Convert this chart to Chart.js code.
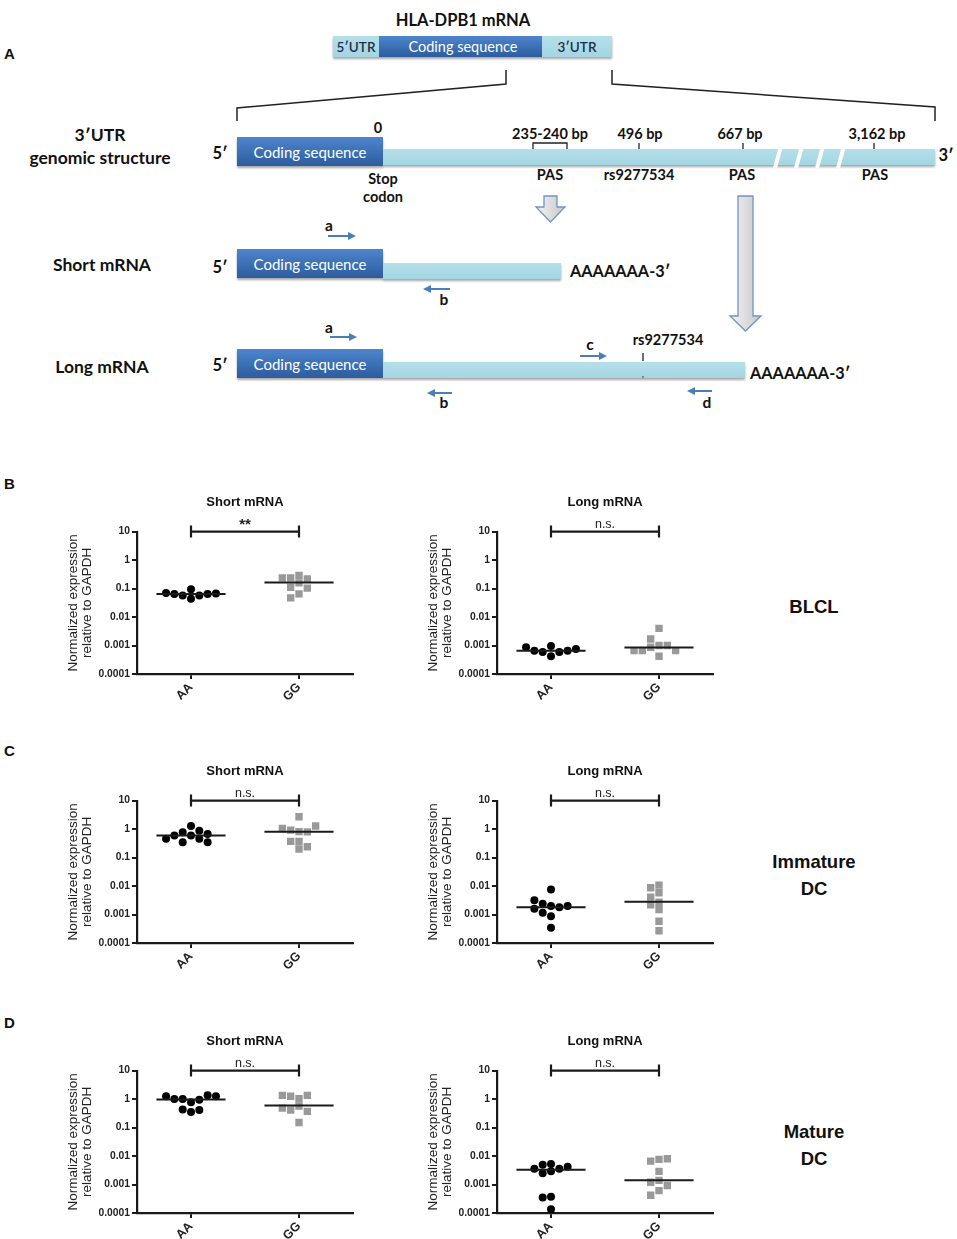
<!DOCTYPE html>
<html><head><meta charset="utf-8">
<script src="https://cdn.jsdelivr.net/npm/chart.js@4.4.0/dist/chart.umd.min.js"></script>
<style>
html,body{margin:0;padding:0;background:#fff;}
#fig{position:relative;width:957px;height:1239px;overflow:hidden;}
canvas{position:absolute;}
.lbl{position:absolute;font-family:"Liberation Sans",Arial,sans-serif;font-weight:bold;color:#111;white-space:nowrap;transform:translate(-50%,-50%);text-align:center;}
.side{font-size:18.5px;line-height:27px;}
.pl{font-size:15px;}
</style></head>
<body><div id="fig">
<svg width="957" height="420" style="position:absolute;left:0;top:0" font-family="Lato, 'Open Sans', sans-serif" font-weight="bold">
<defs>
 <linearGradient id="dark" x1="0" y1="0" x2="0" y2="1"><stop offset="0" stop-color="#4d85cd"/><stop offset="1" stop-color="#2c5c9e"/></linearGradient>
 <linearGradient id="light" x1="0" y1="0" x2="0" y2="1"><stop offset="0" stop-color="#b4dfe9"/><stop offset="1" stop-color="#a4d5e2"/></linearGradient>
 <linearGradient id="garrow" x1="0" y1="0" x2="1" y2="0"><stop offset="0" stop-color="#f4f4f4"/><stop offset="1" stop-color="#c6c6c6"/></linearGradient>
 <filter id="sh" x="-5%" y="-30%" width="110%" height="180%"><feDropShadow dx="0" dy="2" stdDeviation="1.2" flood-color="#000" flood-opacity="0.35"/></filter>
</defs>
<text x="9.5" y="53" font-family="'Liberation Sans',Arial" font-size="15" text-anchor="middle" dominant-baseline="central" fill="#111">A</text>
<text x="463" y="20" font-size="16.5" text-anchor="middle" dominant-baseline="central" fill="#111">HLA-DPB1 mRNA</text>
<g filter="url(#sh)">
 <rect x="333" y="36" width="46" height="21" fill="url(#light)"/>
 <rect x="379" y="36" width="163" height="21" fill="url(#dark)"/>
 <rect x="542" y="36" width="70" height="21" fill="url(#light)"/>
</g>
<text x="356" y="46.5" font-size="13.5" font-weight="600" text-anchor="middle" dominant-baseline="central" fill="#1d2f4a">5′UTR</text>
<text x="463" y="46.5" font-size="14.5" font-weight="normal" text-anchor="middle" dominant-baseline="central" fill="#fff">Coding sequence</text>
<text x="577" y="46.5" font-size="13.5" font-weight="600" text-anchor="middle" dominant-baseline="central" fill="#1d2f4a">3′UTR</text>
<polyline points="506,70 506,84 237,108 237,121" fill="none" stroke="#222" stroke-width="1.5"/>
<polyline points="612,70 612,84 935,107 935,121" fill="none" stroke="#222" stroke-width="1.5"/>

<text x="100" y="134" font-size="17.5" text-anchor="middle" dominant-baseline="central" fill="#111">3′UTR</text>
<text x="100" y="157" font-size="17.5" text-anchor="middle" dominant-baseline="central" fill="#111">genomic structure</text>
<text x="220" y="153" font-size="16.5" text-anchor="middle" dominant-baseline="central" fill="#111">5′</text>
<g filter="url(#sh)">
 <rect x="383" y="149" width="552" height="16" fill="url(#light)"/>
 <rect x="237" y="137" width="146" height="29" fill="url(#dark)"/>
</g>
<g stroke="#fff" stroke-width="4">
 <line x1="775" y1="168" x2="781" y2="146"/>
 <line x1="796" y1="168" x2="802" y2="146"/>
 <line x1="817" y1="168" x2="823" y2="146"/>
 <line x1="838" y1="168" x2="844" y2="146"/>
</g>
<text x="310" y="152" font-size="15" font-weight="normal" text-anchor="middle" dominant-baseline="central" fill="#fff">Coding sequence</text>
<text x="946" y="155" font-size="16.5" text-anchor="middle" dominant-baseline="central" fill="#111">3′</text>
<path d="M533,149 V143 H567 V149" fill="none" stroke="#222" stroke-width="1.3"/>
<g stroke="#222" stroke-width="1.3"><line x1="639" y1="143" x2="639" y2="149"/><line x1="743" y1="143" x2="743" y2="149"/><line x1="874" y1="143" x2="874" y2="149"/></g>
<g font-size="14.5" text-anchor="middle" dominant-baseline="central" fill="#111">
 <text x="378" y="127">0</text>
 <text x="550" y="133">235-240 bp</text>
 <text x="640" y="133">496 bp</text>
 <text x="740" y="133">667 bp</text>
 <text x="877" y="133">3,162 bp</text>
 <text x="550" y="174">PAS</text>
 <text x="639" y="174">rs9277534</text>
 <text x="742" y="174">PAS</text>
 <text x="875" y="174">PAS</text>
 <text x="383" y="178">Stop</text>
 <text x="383" y="196">codon</text>
</g>
<path d="M544,196 H557 V207 H565 L550.5,222 L536,207 H544 Z" fill="url(#garrow)" stroke="#6f93c9" stroke-width="1.3"/>
<path d="M738,196 H753 V316 H761 L745.5,331 L730,316 H738 Z" fill="url(#garrow)" stroke="#6f93c9" stroke-width="1.3"/>

<text x="102" y="264" font-size="17.5" text-anchor="middle" dominant-baseline="central" fill="#111">Short mRNA</text>
<text x="220" y="267" font-size="16.5" text-anchor="middle" dominant-baseline="central" fill="#111">5′</text>
<g filter="url(#sh)">
 <rect x="383" y="263" width="178" height="16" fill="url(#light)"/>
 <rect x="237" y="249" width="146" height="29" fill="url(#dark)"/>
</g>
<text x="310" y="264" font-size="15" font-weight="normal" text-anchor="middle" dominant-baseline="central" fill="#fff">Coding sequence</text>
<text x="570" y="270" font-size="16.3" dominant-baseline="central" fill="#111">AAAAAAA-3′</text>

<text x="102" y="366" font-size="17.5" text-anchor="middle" dominant-baseline="central" fill="#111">Long mRNA</text>
<text x="220" y="365" font-size="16.5" text-anchor="middle" dominant-baseline="central" fill="#111">5′</text>
<g filter="url(#sh)">
 <rect x="383" y="362" width="362" height="16" fill="url(#light)"/>
 <rect x="237" y="349" width="146" height="29" fill="url(#dark)"/>
</g>
<text x="310" y="364" font-size="15" font-weight="normal" text-anchor="middle" dominant-baseline="central" fill="#fff">Coding sequence</text>
<text x="750" y="372" font-size="16.3" dominant-baseline="central" fill="#111">AAAAAAA-3′</text>
<text x="668" y="339" font-size="14.5" text-anchor="middle" dominant-baseline="central" fill="#111">rs9277534</text>
<line x1="643" y1="353" x2="643" y2="361" stroke="#222" stroke-width="1.3"/>
<circle cx="643" cy="377" r="0.8" fill="#333"/>

<g stroke="#4a7ebb" stroke-width="2" fill="#4a7ebb">
 <line x1="328" y1="236" x2="350" y2="236"/><polygon points="356,236 348,232 348,240" stroke="none"/>
 <line x1="450" y1="289" x2="429" y2="289"/><polygon points="423,289 431,285 431,293" stroke="none"/>
 <line x1="330" y1="337" x2="351" y2="337"/><polygon points="357,337 349,333 349,341" stroke="none"/>
 <line x1="452" y1="393" x2="433" y2="393"/><polygon points="427,393 435,389 435,397" stroke="none"/>
 <line x1="580" y1="356" x2="601" y2="356"/><polygon points="607,356 599,352 599,360" stroke="none"/>
 <line x1="712" y1="391" x2="693" y2="391"/><polygon points="687,391 695,387 695,395" stroke="none"/>
</g>
<g font-size="15.5" text-anchor="middle" dominant-baseline="central" fill="#111">
 <text x="329" y="225">a</text>
 <text x="444" y="299">b</text>
 <text x="329" y="327">a</text>
 <text x="444" y="402">b</text>
 <text x="590" y="344">c</text>
 <text x="707" y="402">d</text>
</g>
</svg>

<div class="lbl pl" style="left:9.5px;top:483px">B</div>
<div class="lbl pl" style="left:9.5px;top:750px">C</div>
<div class="lbl pl" style="left:9.5px;top:1022px">D</div>
<div class="lbl side" style="left:814px;top:606px">BLCL</div>
<div class="lbl side" style="left:814px;top:875px">Immature<br>DC</div>
<div class="lbl side" style="left:814px;top:1145px">Mature<br>DC</div>

<canvas id="c0" width="300" height="216" style="left:60px;top:490px"></canvas>
<canvas id="c1" width="300" height="216" style="left:420px;top:490px"></canvas>
<canvas id="c2" width="300" height="216" style="left:60px;top:759px"></canvas>
<canvas id="c3" width="300" height="216" style="left:420px;top:759px"></canvas>
<canvas id="c4" width="300" height="216" style="left:60px;top:1029px"></canvas>
<canvas id="c5" width="300" height="216" style="left:420px;top:1029px"></canvas>
</div>
<script>
// ---- data ----
const categories = ['AA', 'GG'];
const panelTitles = ['Short mRNA', 'Long mRNA'];
const yTickValues = [10, 1, 0.1, 0.01, 0.001, 0.0001];
const yTickLabels = ['10', '1', '0.1', '0.01', '0.001', '0.0001'];
const yAxisTitle = ['Normalized expression', 'relative to GAPDH'];

// BLCL
const blclShortAA = [0.095, 0.044, 0.057, 0.057, 0.065, 0.065, 0.070, 0.067];
const blclShortGG = [0.158, 0.238, 0.219, 0.238, 0.288, 0.111, 0.103, 0.065, 0.047];
const blclLongAA  = [0.00097, 0.00042, 0.00059, 0.00059, 0.00066, 0.00066, 0.00087, 0.00076];
const blclLongGG  = [0.0040, 0.0010, 0.0017, 0.0010, 0.00087, 0.00066, 0.00066, 0.00066, 0.00042];
// Immature DC
const imdcShortAA = [1.28, 0.78, 0.87, 0.60, 0.60, 0.67, 0.456, 0.456, 0.348, 0.348];
const imdcShortGG = [2.7, 0.81, 0.92, 0.80, 1.05, 1.28, 0.37, 0.37, 0.20, 0.24];
const imdcLongAA  = [0.0076, 0.0020, 0.0024, 0.0018, 0.0032, 0.0020, 0.0016, 0.00115, 0.00087, 0.00034];
const imdcLongGG  = [0.0108, 0.0087, 0.0058, 0.0041, 0.0027, 0.0022, 0.0015, 0.00058, 0.00027];
// Mature DC
const mdcShortAA  = [0.78, 1.0, 0.95, 1.0, 1.35, 1.26, 1.26, 0.35, 0.43, 0.41];
const mdcShortGG  = [1.03, 1.26, 1.35, 1.35, 0.57, 0.41, 0.37, 0.48, 0.15];
const mdcLongAA   = [0.0029, 0.0053, 0.0025, 0.0036, 0.0036, 0.0042, 0.0049, 0.00037, 0.00035, 0.000135];
const mdcLongGG   = [0.0029, 0.0076, 0.0066, 0.0080, 0.0014, 0.0012, 0.00092, 0.00061, 0.00042];

// medians (horizontal lines): [AA, GG]
const medians = [
  [0.065, 0.163], [0.00066, 0.00085],
  [0.60, 0.80],   [0.0018, 0.0028],
  [0.97, 0.60],   [0.0033, 0.0014]
];
const significance = ['**', 'n.s.', 'n.s.', 'n.s.', 'n.s.', 'n.s.'];

const groups = [
  [blclShortAA, blclShortGG], [blclLongAA, blclLongGG],
  [imdcShortAA, imdcShortGG], [imdcLongAA, imdcLongGG],
  [mdcShortAA, mdcShortGG],   [mdcLongAA, mdcLongGG]
];

// ---- layout helpers ----
const FONT = "'Liberation Sans', Arial, sans-serif";
const SLOT = 0.077;       // horizontal jitter step (x-axis units)
const MIN_SEP = 0.25;     // min vertical separation (decades) within one column
const HALF = 0.32;        // half width of median line (x-axis units)

function swarm(values, center) {
  const placed = [];
  const order = [0, -1, 1, -2, 2, -3, 3, -4, 4, -5, 5];
  return values.map(v => {
    const lv = Math.log10(v);
    for (const s of order) {
      if (!placed.some(p => p.s === s && Math.abs(p.lv - lv) < MIN_SEP)) {
        placed.push({s, lv});
        return {x: center + s * SLOT, y: v};
      }
    }
    return {x: center, y: v};
  });
}

const sigPlugin = {
  id: 'sig',
  afterDatasetsDraw(chart, args, opts) {
    const {ctx, scales: {x, y}} = chart;
    const x1 = x.getPixelForValue(0.5), x2 = x.getPixelForValue(1.5), yy = y.getPixelForValue(10);
    ctx.save();
    ctx.strokeStyle = '#1a1a1a'; ctx.lineWidth = 2.2;
    ctx.beginPath();
    ctx.moveTo(x1, yy - 6); ctx.lineTo(x1, yy + 6);
    ctx.moveTo(x1, yy); ctx.lineTo(x2, yy);
    ctx.moveTo(x2, yy - 6); ctx.lineTo(x2, yy + 6);
    ctx.stroke();
    ctx.fillStyle = '#222';
    ctx.textAlign = 'center'; ctx.textBaseline = 'middle';
    const star = opts.label.indexOf('*') >= 0;
    ctx.font = (star ? 'bold 15px ' : '12.5px ') + FONT;
    ctx.fillText(opts.label, (x1 + x2) / 2, yy - (star ? 7 : 7));
    ctx.restore();
  }
};

groups.forEach((g, i) => {
  const [aa, gg] = g;
  const [mAA, mGG] = medians[i];
  new Chart(document.getElementById('c' + i), {
    type: 'scatter',
    plugins: [sigPlugin],
    data: {
      datasets: [
        {type: 'line', data: [{x: 0.5 - HALF, y: mAA}, {x: 0.5 + HALF, y: mAA}], borderColor: '#1a1a1a', borderWidth: 2, pointRadius: 0, order: 0},
        {type: 'line', data: [{x: 1.5 - HALF, y: mGG}, {x: 1.5 + HALF, y: mGG}], borderColor: '#1a1a1a', borderWidth: 2, pointRadius: 0, order: 0},
        {data: swarm(aa, 0.5), pointStyle: 'circle', pointRadius: 4, backgroundColor: '#000', borderWidth: 0, order: 1},
        {data: swarm(gg, 1.5), pointStyle: 'rect', pointRadius: 5.2, backgroundColor: '#999', borderWidth: 0, order: 1}
      ]
    },
    options: {
      responsive: false,
      animation: false,
      events: [],
      layout: {padding: {left: 0, right: 7, top: 0, bottom: 0}},
      plugins: {
        legend: {display: false},
        tooltip: {enabled: false},
        sig: {label: significance[i]},
        title: {
          display: true, text: panelTitles[i % 2], fullSize: false,
          font: {family: FONT, size: 13, weight: 'bold'}, color: '#111',
          padding: {top: 5, bottom: 21}
        }
      },
      scales: {
        x: {
          type: 'linear', min: 0, max: 2,
          afterBuildTicks: s => { s.ticks = categories.map((c, k) => ({value: k + 0.5})); },
          afterFit: s => { s.height = 32; },
          ticks: {
            callback: (v, k) => categories[k],
            minRotation: 45, maxRotation: 45, autoSkip: false,
            font: {family: FONT, size: 12.5, weight: 'bold'}, color: '#222', padding: 1
          },
          grid: {drawOnChartArea: false, drawTicks: true, tickLength: 5, color: '#1a1a1a', lineWidth: 2},
          border: {display: true, color: '#1a1a1a', width: 2.2}
        },
        y: {
          type: 'logarithmic', min: 0.0001, max: 10,
          afterBuildTicks: s => { s.ticks = yTickValues.map(v => ({value: v})); },
          afterFit: s => { s.width = 77; },
          ticks: {
            callback: (v, k) => yTickLabels[k],
            autoSkip: false,
            font: {family: FONT, size: 10.3, weight: 'bold'}, color: '#222', padding: 2
          },
          grid: {drawOnChartArea: false, drawTicks: true, tickLength: 5, color: '#1a1a1a', lineWidth: 2},
          border: {display: true, color: '#1a1a1a', width: 2.2},
          title: {
            display: true, text: yAxisTitle,
            font: {family: FONT, size: 13.5, lineHeight: 1.1}, color: '#222',
            padding: {top: 5.5, bottom: 0}
          }
        }
      }
    }
  });
});
</script>
</body></html>
